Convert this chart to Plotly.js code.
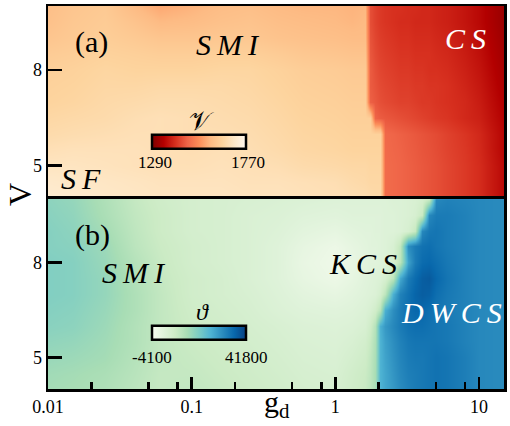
<!DOCTYPE html>
<html>
<head>
<meta charset="utf-8">
<script src="https://cdn.plot.ly/plotly-3.0.1.min.js"></script>
<style>
html,body{margin:0;padding:0;background:#fff;}
#chart{width:510px;height:426px;}
</style>
</head>
<body>
<div id="chart"></div>
<script>
// coupling g_d (log axis), shared by both panels
const gd = [0.01, 0.015, 0.025, 0.04, 0.06, 0.1, 0.16, 0.25, 0.4, 0.6, 1, 1.3, 1.6, 1.75, 1.9, 2.05, 2.2, 2.5, 2.8, 3.2, 3.6, 4, 4.5, 5, 6, 8, 10, 15];
// V rows, bottom to top
const Vrows = [4, 4.5, 5, 5.5, 6, 6.5, 7, 7.5, 8, 8.5, 9, 9.5, 10];

// panel (a): order parameter script-V
const vA = [
  [1725, 1720, 1710, 1705, 1700, 1700, 1700, 1695, 1695, 1690, 1685, 1680, 1675, 1670, 1665, 1665, 1480, 1475, 1470, 1465, 1460, 1455, 1450, 1445, 1435, 1420, 1405, 1360],
  [1715, 1710, 1705, 1700, 1695, 1695, 1695, 1690, 1690, 1685, 1680, 1670, 1665, 1660, 1660, 1660, 1480, 1475, 1470, 1465, 1460, 1455, 1450, 1445, 1435, 1420, 1405, 1360],
  [1700, 1700, 1695, 1690, 1685, 1685, 1690, 1685, 1680, 1670, 1665, 1660, 1660, 1655, 1655, 1655, 1480, 1475, 1470, 1465, 1460, 1455, 1450, 1445, 1435, 1420, 1405, 1360],
  [1685, 1690, 1690, 1690, 1685, 1680, 1685, 1680, 1670, 1660, 1655, 1650, 1650, 1650, 1650, 1650, 1478, 1472, 1468, 1462, 1458, 1452, 1448, 1442, 1432, 1418, 1402, 1355],
  [1670, 1675, 1680, 1685, 1685, 1680, 1680, 1675, 1665, 1655, 1650, 1645, 1645, 1645, 1645, 1645, 1475, 1470, 1465, 1460, 1455, 1450, 1445, 1440, 1430, 1415, 1400, 1355],
  [1660, 1665, 1670, 1680, 1685, 1680, 1675, 1670, 1660, 1650, 1645, 1640, 1640, 1640, 1470, 1460, 1455, 1450, 1445, 1440, 1435, 1430, 1425, 1420, 1415, 1400, 1390, 1350],
  [1650, 1655, 1665, 1670, 1675, 1675, 1670, 1665, 1655, 1645, 1640, 1635, 1635, 1465, 1455, 1445, 1440, 1435, 1430, 1430, 1425, 1420, 1420, 1415, 1410, 1400, 1385, 1345],
  [1645, 1650, 1660, 1660, 1665, 1665, 1665, 1660, 1650, 1640, 1635, 1630, 1630, 1460, 1450, 1440, 1435, 1430, 1425, 1425, 1420, 1420, 1415, 1415, 1410, 1395, 1380, 1340],
  [1640, 1645, 1655, 1650, 1650, 1650, 1655, 1655, 1645, 1635, 1630, 1625, 1625, 1460, 1445, 1435, 1430, 1425, 1420, 1420, 1415, 1415, 1410, 1410, 1405, 1390, 1375, 1335],
  [1630, 1635, 1645, 1640, 1635, 1635, 1640, 1640, 1630, 1620, 1615, 1610, 1610, 1455, 1440, 1430, 1425, 1420, 1415, 1415, 1410, 1410, 1410, 1405, 1400, 1385, 1370, 1330],
  [1615, 1625, 1635, 1625, 1615, 1615, 1620, 1620, 1610, 1605, 1600, 1595, 1595, 1450, 1435, 1425, 1420, 1415, 1410, 1410, 1405, 1405, 1405, 1400, 1395, 1380, 1365, 1325],
  [1605, 1620, 1630, 1610, 1590, 1595, 1605, 1610, 1600, 1595, 1590, 1585, 1590, 1445, 1430, 1420, 1415, 1410, 1405, 1405, 1400, 1400, 1400, 1395, 1390, 1375, 1360, 1320],
  [1600, 1615, 1625, 1590, 1565, 1580, 1595, 1600, 1590, 1585, 1585, 1580, 1585, 1445, 1430, 1420, 1415, 1410, 1410, 1405, 1405, 1400, 1400, 1395, 1390, 1375, 1360, 1320]
];

// panel (b): order parameter theta
const thB = [
  [13500, 13000, 12000, 10000, 8500, 9000, 8000, 7000, 6000, 5000, 4500, 6500, 8000, 10000, 13000, 24500, 26500, 28500, 30500, 32000, 33000, 33500, 34000, 34500, 34000, 32500, 31000, 30500],
  [14000, 13500, 12500, 10500, 8500, 8500, 7500, 6500, 5500, 4500, 4000, 6000, 7500, 9500, 13000, 24500, 26500, 29000, 31000, 32500, 33000, 33500, 34000, 34500, 34000, 32500, 31000, 30500],
  [15000, 14500, 13500, 11000, 9000, 8000, 7000, 6000, 5000, 4000, 3500, 5000, 6500, 9000, 12500, 24500, 27000, 29500, 31500, 33000, 33500, 33500, 34000, 34500, 34000, 32500, 31000, 30500],
  [16000, 15500, 14000, 11500, 9000, 7500, 6500, 5500, 4500, 3500, 3000, 4000, 5500, 8000, 12000, 24500, 27500, 30000, 32000, 33500, 34000, 34000, 34000, 34000, 33500, 32000, 31000, 30500],
  [17000, 16500, 14500, 11500, 9000, 7000, 6000, 5000, 4000, 3000, 2500, 3000, 4000, 6500, 11000, 25000, 28500, 31000, 33000, 34500, 35000, 35000, 34500, 34000, 33500, 32000, 31000, 30500],
  [17500, 17000, 15000, 12000, 9000, 6500, 5500, 4500, 3000, 2000, 1500, 2000, 3000, 4000, 6000, 10500, 25000, 30000, 33000, 35000, 36000, 36000, 35000, 34000, 33000, 32000, 31000, 30500],
  [18000, 17500, 15500, 12000, 9000, 6000, 5000, 4000, 2500, 1000, 0, 1000, 2000, 2500, 3000, 5000, 10000, 25000, 32000, 34500, 36500, 37500, 37000, 35000, 33500, 32000, 31000, 30500],
  [18000, 17500, 15500, 11500, 8500, 6000, 5000, 3500, 2000, 0, -1500, 0, 1500, 2000, 2500, 3000, 4500, 10000, 26000, 33000, 35500, 37500, 38000, 36000, 34000, 32000, 31000, 30500],
  [18000, 17500, 15000, 11000, 8000, 5500, 4500, 3500, 2000, -500, -2000, -500, 1000, 1500, 1500, 2000, 2500, 4500, 10000, 27000, 33000, 35500, 36000, 35000, 33500, 32000, 31000, 30500],
  [17500, 17000, 14500, 10000, 7500, 5500, 4500, 3500, 2000, 0, -1500, 0, 1000, 1500, 1500, 2000, 2500, 4000, 9000, 30000, 33000, 34500, 35000, 34000, 33000, 32000, 31000, 30500],
  [17500, 16500, 13500, 9500, 7000, 5000, 4500, 3500, 2500, 1000, 0, 1000, 1500, 1500, 2000, 2000, 2500, 2500, 3000, 4500, 8500, 31000, 33500, 34000, 33000, 32000, 31000, 30500],
  [17000, 16000, 12500, 9000, 7000, 5000, 4500, 3500, 3000, 2000, 1500, 2000, 2000, 2000, 2000, 2000, 2500, 2500, 3000, 3500, 4500, 8000, 31000, 33000, 33000, 32000, 31000, 30500],
  [16500, 15500, 12000, 8500, 6500, 5000, 4500, 4000, 3500, 3000, 2500, 2500, 2500, 2500, 2500, 2500, 2500, 3000, 3000, 3500, 4000, 5000, 8000, 31000, 32000, 31500, 31000, 30500]
];

// colour-bar limits and symbols
const rangeA = [1290, 1770];
const rangeB = [-4100, 41800];
const symbolA = '𝒱';
const symbolB = 'ϑ';

// axis ticks
const xMajor = [0.01, 0.1, 1, 10];
const xMajorText = ['0.01', '0.1', '1', '10'];
const xMinor = [0.02, 0.05, 0.08, 0.2, 0.5, 0.8, 2, 5, 8];
const yMajor = [5, 8];

const OrRdRev = [[0,'#7f0000'],[0.125,'#b30000'],[0.25,'#d7301f'],[0.375,'#ef6548'],[0.5,'#fc8d59'],[0.625,'#fdbb84'],[0.75,'#fdd49e'],[0.875,'#fee8c8'],[1,'#fff7ec']];
const GnBu = [[0,'#f7fcf0'],[0.125,'#e0f3db'],[0.25,'#ccebc5'],[0.375,'#a8ddb5'],[0.5,'#7bccc4'],[0.625,'#4eb3d3'],[0.75,'#2b8cbe'],[0.875,'#0868ac'],[1,'#084081']];

const SERIF = "'Liberation Serif', 'Times New Roman', serif";
const tickFont = {family: SERIF, size: 18, color: '#000'};

// plot-area geometry (pixels) for placing text and inset colour bars
const PL = 48, PT = 6, PW = 456, PH = 383;
const px = v => (v - PL) / PW;
const py = v => 1 - (v - PT) / PH;
const CB_LEFT = 151, CB_RIGHT = 247;

function cbar(yc) {
  return {
    orientation: 'h', x: px((CB_LEFT + CB_RIGHT) / 2), xanchor: 'center', y: py(yc), yanchor: 'middle',
    len: CB_RIGHT - CB_LEFT - 2, lenmode: 'pixels', thickness: 14,
    outlinewidth: 2.5, outlinecolor: '#000', xpad: 0, ypad: 0,
    showticklabels: false, ticks: ''
  };
}

const traces = [
  {
    type: 'heatmap', x: gd, y: Vrows, z: vA, xaxis: 'x2', yaxis: 'y2',
    zmin: rangeA[0], zmax: rangeA[1], colorscale: OrRdRev, zsmooth: 'best',
    colorbar: cbar(142.5), hoverinfo: 'skip'
  },
  {
    type: 'heatmap', x: gd, y: Vrows, z: thB, xaxis: 'x', yaxis: 'y',
    zmin: rangeB[0], zmax: rangeB[1], colorscale: GnBu, zsmooth: 'best',
    colorbar: cbar(333.5), hoverinfo: 'skip'
  }
];

const xRange = [-2, 1.174];
const lineStyle = {showline: true, mirror: true, linecolor: '#000', linewidth: 2.5, showgrid: false, zeroline: false};

const layout = {
  width: 510, height: 426,
  margin: {l: PL, r: 510 - PL - PW, t: PT, b: 426 - PT - PH},
  paper_bgcolor: '#fff', plot_bgcolor: '#fff',
  showlegend: false,
  xaxis: Object.assign({}, lineStyle, {
    type: 'log', range: xRange, anchor: 'y', domain: [0, 1],
    tickmode: 'array', tickvals: xMajor, ticktext: xMajorText,
    ticks: 'inside', ticklen: 12, tickwidth: 2.5, tickcolor: '#000', tickfont: tickFont,
    minor: {tickmode: 'array', tickvals: xMinor, ticks: 'inside', ticklen: 7, tickwidth: 2.5, tickcolor: '#000', showgrid: false}
  }),
  yaxis: Object.assign({}, lineStyle, {
    range: [4, 10], anchor: 'x', domain: [0, 0.496],
    tickmode: 'array', tickvals: yMajor, ticks: 'inside', ticklen: 14, tickwidth: 2.5, tickcolor: '#000', tickfont: tickFont
  }),
  xaxis2: Object.assign({}, lineStyle, {
    type: 'log', range: xRange, anchor: 'y2', domain: [0, 1], matches: 'x',
    showticklabels: false, ticks: ''
  }),
  yaxis2: Object.assign({}, lineStyle, {
    range: [4.05, 10], anchor: 'x2', domain: [0.504, 1],
    tickmode: 'array', tickvals: yMajor, ticks: 'inside', ticklen: 14, tickwidth: 2.5, tickcolor: '#000', tickfont: tickFont
  }),
  annotations: []
};

function note(text, x, y, size, color, extra) {
  return Object.assign({
    text: text, xref: 'paper', yref: 'paper', x: px(x), y: py(y),
    xanchor: 'center', yanchor: 'middle', showarrow: false,
    font: {family: SERIF, size: size, color: color || '#000'}
  }, extra || {});
}
const thin = '\u2009';
const it = s => '<i>' + s.split('').join(thin) + '</i>';

layout.annotations.push(
  // panel labels and phase names
  note('(a)', 91.5, 42, 30),
  note(it('SMI'), 227.5, 45, 30),
  note(it('CS'), 465, 39, 30, '#fff'),
  note(it('SF'), 81, 178, 30),
  note('(b)', 92, 235, 30),
  note(it('SMI'), 134, 272.5, 30),
  note(it('KCS'), 362.5, 263, 30),
  note(it('DWCS'), 451, 312.5, 30, '#fff'),
  // inset colour-bar symbols and end values
  note(symbolA, 201, 121, 26),
  note(String(rangeA[0]), CB_LEFT + 4, 163, 17),
  note(String(rangeA[1]), CB_RIGHT + 1, 163, 17),
  note('<i>' + symbolB + '</i>', 202, 312, 24),
  note(String(rangeB[0]), CB_LEFT + 1, 357, 17),
  note(String(rangeB[1]), CB_RIGHT - 1, 357, 17),
  // axis titles
  note('V', 20, 195, 32, '#000', {textangle: -90}),
  note('g<sub>d</sub>', 277, 404, 30)
);

Plotly.newPlot('chart', traces, layout, {displayModeBar: false, staticPlot: true});
</script>
</body>
</html>
